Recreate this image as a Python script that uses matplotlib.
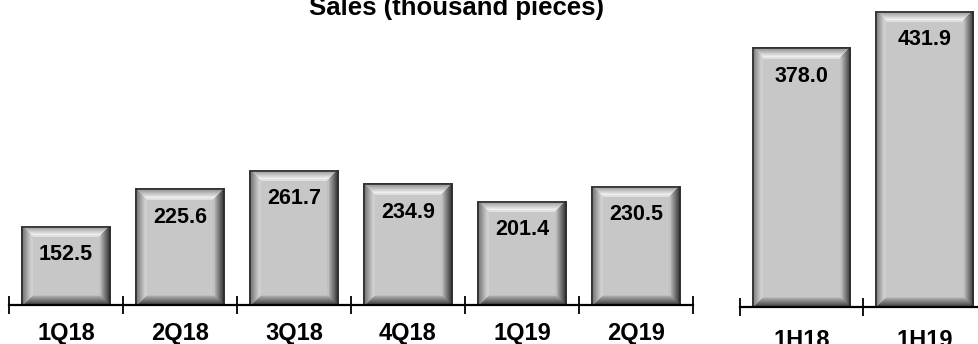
import matplotlib
matplotlib.use("Agg")
import matplotlib.pyplot as plt
import numpy as np
from matplotlib.patches import Polygon

plt.rcParams['font.family'] = ['Liberation Sans', 'DejaVu Sans']

# data
quarters = ['1Q18', '2Q18', '3Q18', '4Q18', '1Q19', '2Q19']
quarter_sales = [152.5, 225.6, 261.7, 234.9, 201.4, 230.5]
halves = ['1H18', '1H19']
half_sales = [378.0, 431.9]

W, H, DPI = 979, 344, 100
fig = plt.figure(figsize=(W / DPI, H / DPI), dpi=DPI)

face = np.array([0.78, 0.78, 0.78])
edge_cols = {
    'top': (np.array([0.58, 0.58, 0.58]), np.array([0.98, 0.98, 0.98])),
    'left': (np.array([0.45, 0.45, 0.45]), np.array([0.84, 0.84, 0.84])),
    'right': (np.array([0.22, 0.22, 0.22]), np.array([0.72, 0.72, 0.72])),
    'bottom': (np.array([0.25, 0.25, 0.25]), np.array([0.70, 0.70, 0.70])),
}


def bevel_bars(ax, labels, values, width, ax_px, ylim, pad):
    n = len(labels)
    x = np.arange(n)
    ax.set_xlim(-0.5, n - 0.5)
    ax.set_ylim(0, ylim)
    bars = ax.bar(x, values, width=width, color=face, edgecolor='#2e2e2e', linewidth=1.2, zorder=2)
    # pixels -> data units
    px_x = n / ax_px[0]
    px_y = ylim / ax_px[1]
    nb = 10
    for b in bars:
        x0, y0 = b.get_x(), b.get_y()
        x1, y1 = x0 + b.get_width(), y0 + b.get_height()
        for k in range(nb):
            t = k / (nb - 1)
            a, c = k * px_x, (k + 1) * px_x
            ay, cy = k * px_y, (k + 1) * px_y
            polys = {
                'top': [(x0 + a, y1 - ay), (x1 - a, y1 - ay), (x1 - c, y1 - cy), (x0 + c, y1 - cy)],
                'bottom': [(x0 + a, y0 + ay), (x1 - a, y0 + ay), (x1 - c, y0 + cy), (x0 + c, y0 + cy)],
                'left': [(x0 + a, y0 + ay), (x0 + a, y1 - ay), (x0 + c, y1 - cy), (x0 + c, y0 + cy)],
                'right': [(x1 - a, y0 + ay), (x1 - a, y1 - ay), (x1 - c, y1 - cy), (x1 - c, y0 + cy)],
            }
            for side, pts in polys.items():
                c0, c1 = edge_cols[side]
                col = c0 + (c1 - c0) * t
                if k == nb - 1:
                    col = (col + face) / 2
                ax.add_patch(Polygon(pts, closed=True, facecolor=col, edgecolor='none',
                                     antialiased=False, zorder=3))
        ax.add_patch(plt.Rectangle((x0, y0), x1 - x0, y1 - y0, fill=False,
                                   edgecolor='#2e2e2e', linewidth=1.2, zorder=4))
    for xi, v in zip(x, values):
        ax.annotate(f'{v:.1f}', xy=(xi, v), xytext=(0, -20), textcoords='offset points',
                    ha='center', va='center', fontsize=15.5, fontweight='bold', zorder=5)
    for s in ['top', 'left', 'right']:
        ax.spines[s].set_visible(False)
    ax.spines['bottom'].set_linewidth(1.6)
    ax.spines['bottom'].set_zorder(6)
    ax.set_yticks([])
    ax.set_xticks(x)
    ax.set_xticklabels(labels, fontsize=17, fontweight='bold')
    ax.tick_params(axis='x', which='major', length=0, pad=pad)
    ax.set_xticks(np.arange(n + 1) - 0.5, minor=True)
    ax.tick_params(axis='x', which='minor', direction='inout', length=13, width=1.3)
    ax.patch.set_alpha(0)


# quarterly panel
axl = fig.add_axes([9 / W, 39 / H, 684 / W, 305 / H])
bevel_bars(axl, quarters, quarter_sales, 0.77, (684, 305), 305 / 0.513, 12)

# half-year panel
axr = fig.add_axes([740 / W, 37 / H, 246 / W, 307 / H])
bevel_bars(axr, halves, half_sales, 0.79, (246, 307), 307 / 0.684, 16)

fig.text(457 / W, 1 - 15 / H, 'Sales (thousand pieces)', ha='center', va='baseline',
         fontsize=18.5, fontweight='bold')

fig.savefig('out.png', dpi=DPI)
